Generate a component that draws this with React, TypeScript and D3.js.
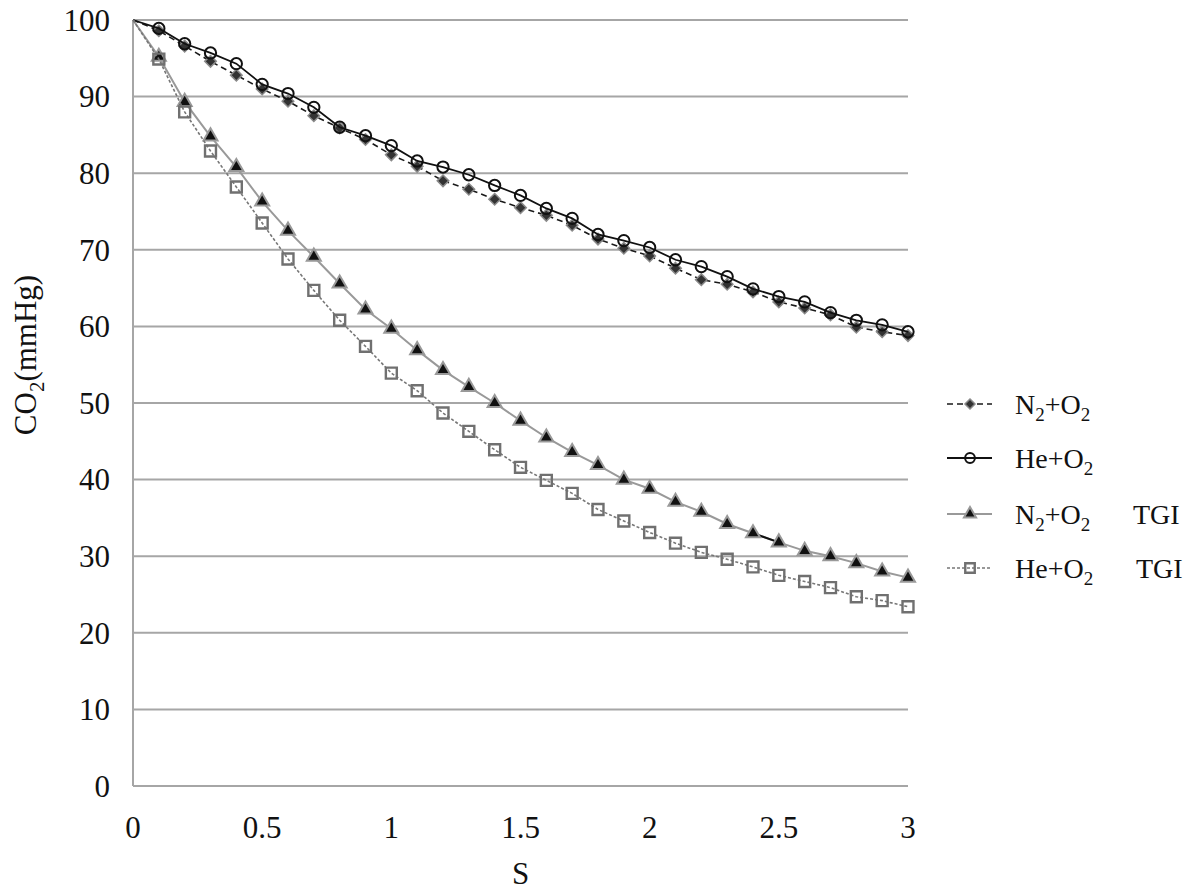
import React from 'react'
import * as d3 from 'd3'

const sValues = [0, 0.1, 0.2, 0.3, 0.4, 0.5, 0.6, 0.7, 0.8, 0.9, 1.0, 1.1, 1.2, 1.3, 1.4, 1.5, 1.6, 1.7, 1.8, 1.9, 2.0, 2.1, 2.2, 2.3, 2.4, 2.5, 2.6, 2.7, 2.8, 2.9, 3.0]

const n2o2 = [100, 98.6, 96.6, 94.6, 92.8, 91.0, 89.4, 87.5, 85.9, 84.4, 82.4, 80.9, 79.0, 77.9, 76.6, 75.5, 74.5, 73.2, 71.4, 70.2, 69.2, 67.6, 66.1, 65.5, 64.5, 63.2, 62.4, 61.5, 59.9, 59.3, 58.8]
const heo2 = [100, 98.9, 96.9, 95.7, 94.3, 91.6, 90.4, 88.6, 86.0, 84.9, 83.6, 81.6, 80.8, 79.8, 78.4, 77.1, 75.4, 74.1, 72.0, 71.2, 70.3, 68.7, 67.8, 66.5, 64.9, 63.9, 63.2, 61.8, 60.8, 60.2, 59.3]
const n2o2Tgi = [100, 95.2, 89.3, 84.8, 80.8, 76.3, 72.5, 69.1, 65.6, 62.2, 59.7, 56.9, 54.3, 52.1, 50.0, 47.7, 45.5, 43.6, 41.9, 40.0, 38.8, 37.1, 35.8, 34.2, 33.0, 31.8, 30.7, 30.0, 29.1, 28.0, 27.2]
const heo2Tgi = [100, 94.9, 88.0, 82.9, 78.2, 73.5, 68.8, 64.7, 60.8, 57.4, 53.9, 51.6, 48.7, 46.3, 43.9, 41.6, 39.9, 38.2, 36.1, 34.6, 33.1, 31.7, 30.5, 29.6, 28.6, 27.5, 26.7, 25.9, 24.7, 24.2, 23.4]

const yTicks = [0, 10, 20, 30, 40, 50, 60, 70, 80, 90, 100]
const xTicks = [0, 0.5, 1, 1.5, 2, 2.5, 3]

// the TGI N2 line has one black segment in the source figure (between S=2.4 and 2.5)
const blackSegment = [24, 25]

const FONT = '"Liberation Serif", "DejaVu Serif", serif'

const series = [
  { key: 'n2', name: 'N', tgi: false, values: n2o2, stroke: '#1a1a1a', width: 1.6, dash: '6,4', symbol: d3.symbolDiamond2, size: 85, fill: '#333', mStroke: '#8a8a8a', mWidth: 1.5 },
  { key: 'he', name: 'He', tgi: false, values: heo2, stroke: '#111', width: 1.8, dash: null, symbol: d3.symbolCircle, size: 100, fill: 'none', mStroke: '#111', mWidth: 2 },
  { key: 'n2t', name: 'N', tgi: true, values: n2o2Tgi, stroke: '#999', width: 2, dash: null, symbol: d3.symbolTriangle, size: 85, fill: '#111', mStroke: '#999', mWidth: 2 },
  { key: 'het', name: 'He', tgi: true, values: heo2Tgi, stroke: '#777', width: 1.6, dash: '3,2', symbol: d3.symbolSquare, size: 120, fill: 'none', mStroke: '#707070', mWidth: 2.4 },
]

export default function App() {
  const width = 1200
  const height = 891
  const x = d3.scaleLinear().domain([0, 3]).range([133, 908])
  const y = d3.scaleLinear().domain([0, 100]).range([786, 20])

  const line = d3.line<number>()
    .x((d, i) => x(sValues[i]))
    .y(d => y(d))

  const legendY = [404, 458, 514, 568]

  return (
    <svg width={width} height={height} style={{ position: 'absolute', left: 0, top: 0, background: '#fff' }}>
      <rect x={0} y={0} width={width} height={height} fill="#fff" />
      {yTicks.map(t => (
        <g key={'y' + t}>
          <line x1={x(0)} x2={x(3)} y1={y(t)} y2={y(t)} stroke="#a6a6a6" strokeWidth={2} />
          <text x={110} y={y(t)} dy="0.35em" textAnchor="end" fontFamily={FONT} fontSize={31} fill="#111">{t}</text>
        </g>
      ))}
      <line x1={x(0)} x2={x(0)} y1={y(0)} y2={y(100)} stroke="#a6a6a6" strokeWidth={2} />
      {xTicks.map(t => (
        <text key={'x' + t} x={x(t)} y={838} textAnchor="middle" fontFamily={FONT} fontSize={31} fill="#111">{t}</text>
      ))}
      <text x={x(1.5)} y={884} textAnchor="middle" fontFamily={FONT} fontSize={31} fill="#111">S</text>
      <text transform={`translate(36,${355}) rotate(-90)`} textAnchor="middle" fontFamily={FONT} fontSize={31} fill="#111">
        CO<tspan fontSize={21} dy={8}>2</tspan><tspan dy={-8}>(mmHg)</tspan>
      </text>

      {series.map(s => (
        <g key={s.key}>
          <path d={line(s.values) || ''} fill="none" stroke={s.stroke} strokeWidth={s.width} strokeDasharray={s.dash || undefined} />
          {s.key === 'n2t' ? (
            <line x1={x(sValues[blackSegment[0]])} y1={y(s.values[blackSegment[0]])}
              x2={x(sValues[blackSegment[1]])} y2={y(s.values[blackSegment[1]])}
              stroke="#111" strokeWidth={2} />
          ) : null}
          {s.values.map((v, i) => i === 0 ? null : (
            <path key={i} transform={`translate(${x(sValues[i])},${y(v)})`}
              d={d3.symbol().type(s.symbol).size(s.size)() || ''}
              fill={s.fill} stroke={s.mStroke} strokeWidth={s.mWidth} />
          ))}
        </g>
      ))}

      {series.map((s, i) => (
        <g key={'lg' + s.key} transform={`translate(0,${legendY[i]})`}>
          <line x1={947} x2={992} y1={0} y2={0} stroke={s.stroke} strokeWidth={s.width} strokeDasharray={s.dash || undefined} />
          <path transform="translate(970,0)" d={d3.symbol().type(s.symbol).size(s.size * 0.75)() || ''}
            fill={s.fill} stroke={s.mStroke} strokeWidth={s.mWidth} />
          <text x={1015} y={0} dy="0.35em" fontFamily={FONT} fontSize={28} fill="#111">
            {s.name}
            {s.name === 'N' ? <tspan fontSize={19} dy={7}>2</tspan> : null}
            <tspan dy={s.name === 'N' ? -7 : 0}>+O</tspan>
            <tspan fontSize={19} dy={7}>2</tspan>
          </text>
          {s.tgi ? <text x={s.name === 'N' ? 1133 : 1136} y={0} dy="0.35em" fontFamily={FONT} fontSize={28} fill="#111">TGI</text> : null}
        </g>
      ))}
    </svg>
  )
}
